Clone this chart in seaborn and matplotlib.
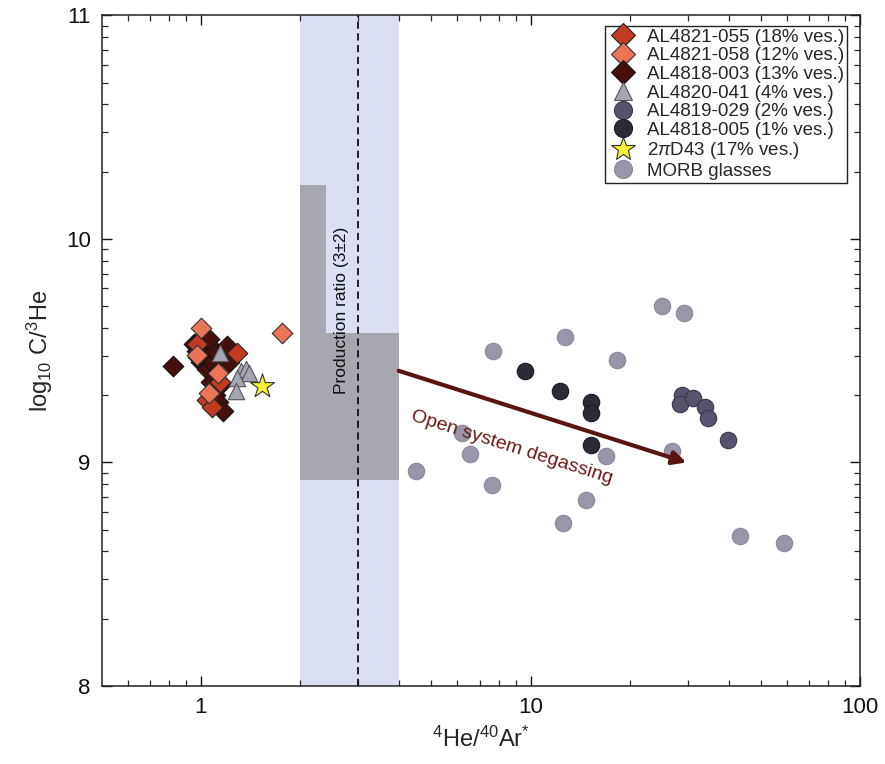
import numpy as np
import pandas as pd
import matplotlib
matplotlib.use("Agg")
import matplotlib.pyplot as plt
import seaborn as sns
from matplotlib.ticker import FixedLocator, NullFormatter
from matplotlib.lines import Line2D

sns.set_theme(style="white")
plt.rcParams['font.family'] = ['Liberation Sans', 'DejaVu Sans']
plt.rcParams['mathtext.fontset'] = 'custom'
plt.rcParams['mathtext.rm'] = 'Liberation Sans'
plt.rcParams['mathtext.it'] = 'Liberation Sans:italic'
plt.rcParams['mathtext.bf'] = 'Liberation Sans:bold'

# ---- data ----
al055_x = [1.29, 1.04, 1.08, 1.14, 0.97]
al055_y = [9.49, 9.28, 9.25, 9.36, 9.53]

al058_x = [1.00, 1.76, 1.13, 1.06, 0.97]
al058_y = [9.60, 9.58, 9.40, 9.31, 9.48]

al003_x = [0.82, 0.95, 0.97, 1.00, 1.02, 1.05, 1.00, 1.04, 1.08, 1.10, 1.12, 1.15, 1.20, 1.07, 1.10, 1.13, 1.17, 1.22, 0.98, 1.06]
al003_y = [9.43, 9.53, 9.50, 9.55, 9.52, 9.48, 9.45, 9.42, 9.45, 9.50, 9.40, 9.35, 9.52, 9.36, 9.30, 9.27, 9.23, 9.45, 9.47, 9.55]

al041_x = [1.14, 1.32, 1.37, 1.40, 1.29, 1.28]
al041_y = [9.49, 9.41, 9.42, 9.40, 9.38, 9.32]

al029_x = [28.8, 28.4, 31.2, 33.9, 34.5, 39.6]
al029_y = [9.30, 9.26, 9.29, 9.25, 9.20, 9.10]

al005_x = [9.6, 12.3, 15.2, 15.2, 15.2]
al005_y = [9.41, 9.32, 9.27, 9.22, 9.08]

d43_x = [1.53]
d43_y = [9.34]

morb_x = [25.0, 29.3, 12.7, 7.69, 18.3, 6.19, 6.53, 4.48, 16.9, 26.8, 7.63, 14.7, 12.5, 43.3, 58.9]
morb_y = [9.70, 9.67, 9.56, 9.50, 9.46, 9.13, 9.04, 8.96, 9.03, 9.05, 8.90, 8.83, 8.73, 8.67, 8.64]

labels = ["AL4821-055 (18% ves.)", "AL4821-058 (12% ves.)", "AL4818-003 (13% ves.)",
          "AL4820-041 (4% ves.)", "AL4819-029 (2% ves.)", "AL4818-005 (1% ves.)",
          r"2$\pi$D43 (17% ves.)", "MORB glasses"]

band_lo, band_hi, prod_ratio = 2.0, 4.0, 3.0
arrow_start = (3.98, 9.41)
arrow_end = (29.7, 9.0)

# ---- figure ----
fig = plt.figure(figsize=(8.85, 7.64), dpi=100)
ax = fig.add_axes([0.115, 0.102, 0.857, 0.878])

ax.set_xscale('log')
ax.set_xlim(0.5, 100)
ax.set_ylim(8, 11)

# production ratio band
ax.axvspan(band_lo, band_hi, color='#dae0f2', zorder=0, lw=0)
ax.fill_between([band_lo, 2.39], 8.92, 10.24, color='#a2a1a8', alpha=0.9, lw=0, zorder=1)
ax.fill_between([2.39, band_hi], 8.92, 9.58, color='#a2a1a8', alpha=0.9, lw=0, zorder=1)
ax.axvline(prod_ratio, color='#111111', ls=(0, (4, 2.5)), lw=1.3, zorder=2)
ax.text(2.66, 9.68, "Production ratio (3\u00b12)", rotation=90, ha='center', va='center',
        fontsize=12.5, color='#111111', zorder=3)

styles = [
    (al055_x, al055_y, 'D', '#c23a1f', '#222222', 110, labels[0]),
    (al058_x, al058_y, 'D', '#ea7358', '#333333', 110, labels[1]),
    (al003_x, al003_y, 'D', '#46110c', '#111111', 110, labels[2]),
    (al041_x, al041_y, '^', '#a5a5b0', '#555560', 140, labels[3]),
    (al029_x, al029_y, 'o', '#56536c', '#3a3848', 140, labels[4]),
    (al005_x, al005_y, 'o', '#2b2a36', '#1a1a22', 140, labels[5]),
    (d43_x, d43_y, '*', '#f4f233', '#333333', 330, labels[6]),
    (morb_x, morb_y, 'o', '#9896a8', '#8a889a', 140, labels[7]),
]

draw_order = [7, 5, 4, 2, 0, 1, 3, 6]
for i in draw_order:
    xs, ys, m, fc, ec, s, lab = styles[i]
    df = pd.DataFrame({'x': xs, 'y': ys})
    sns.scatterplot(data=df, x='x', y='y', marker=m, color=fc, edgecolor=ec,
                    linewidth=0.8, s=s, ax=ax, zorder=4 + draw_order.index(i), legend=False)

# arrow
ax.annotate("", xy=arrow_end, xytext=arrow_start,
            arrowprops=dict(arrowstyle='-|>', color='#5a1512', lw=3,
                            mutation_scale=20, shrinkA=0, shrinkB=0), zorder=6)
ax.text(8.8, 9.065, "Open system degassing", rotation=-17.5, ha='center', va='center',
        fontsize=14, color='#6e1a16', zorder=7, rotation_mode='anchor')

# axes styling
ax.set_xticks([1, 10, 100])
ax.set_xticklabels(['1', '10', '100'])
ax.xaxis.set_minor_locator(FixedLocator([0.6, 0.7, 0.8, 0.9] + [k for k in range(2, 10)] + [10 * k for k in range(2, 10)]))
ax.xaxis.set_minor_formatter(NullFormatter())
ax.set_yticks([8, 9, 10, 11])
ax.set_yticklabels(['8', '9', '10', '11'])
ax.yaxis.set_minor_locator(FixedLocator([n + np.log10(k) for n in (8, 9, 10) for k in range(2, 10)]))
ax.tick_params(axis='both', which='major', direction='in', length=7, width=1,
               top=True, right=True, bottom=True, left=True,
               labelsize=16, pad=8, colors='#111111')
ax.tick_params(axis='both', which='minor', direction='in', length=4, width=0.9,
               top=True, right=True, bottom=True, left=True)
for sp in ax.spines.values():
    sp.set_color('#222222')
    sp.set_linewidth(1.1)

ax.set_xlabel(r"$^{4}$He/$^{40}$Ar$^{*}$", fontsize=17, labelpad=6)
ax.set_ylabel(r"log$_{10}$ C/$^{3}$He", fontsize=17, labelpad=8)

# legend
handles = []
for xs, ys, m, fc, ec, s, lab in styles:
    ms = {'D': 12, '^': 13, 'o': 13, '*': 18}[m]
    handles.append(Line2D([], [], ls='none', marker=m, markerfacecolor=fc, markeredgecolor=ec,
                          markeredgewidth=0.8, markersize=ms, label=lab))
leg = ax.legend(handles=handles, loc='upper right', bbox_to_anchor=(0.988, 0.99), fontsize=13.5,
                frameon=True, fancybox=False, edgecolor='#222222', framealpha=1,
                handletextpad=0.5, borderpad=0.15, labelspacing=0.08, handlelength=1.6,
                borderaxespad=0.2)
leg.get_frame().set_linewidth(1.0)

fig.savefig("out.png", dpi=100)
